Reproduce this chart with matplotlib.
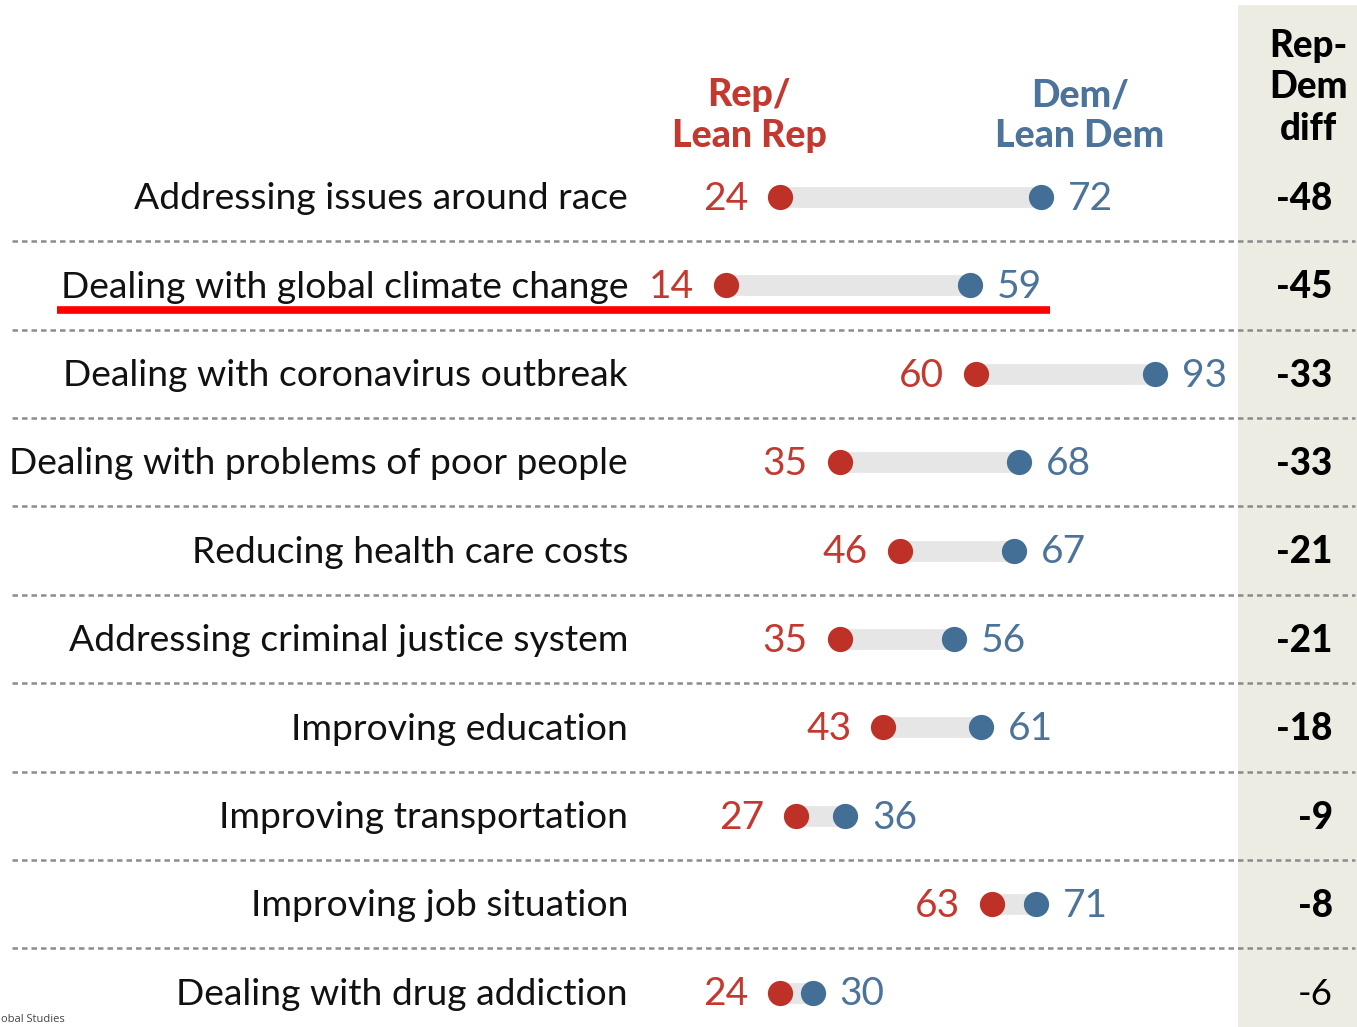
import matplotlib
matplotlib.use("Agg")
import matplotlib.pyplot as plt
from matplotlib.patches import Rectangle

# Share saying each group trusts the effort, by party
categories = [
    "Addressing issues around race",
    "Dealing with global climate change",
    "Dealing with coronavirus outbreak",
    "Dealing with problems of poor people",
    "Reducing health care costs",
    "Addressing criminal justice system",
    "Improving education",
    "Improving transportation",
    "Improving job situation",
    "Dealing with drug addiction",
]
rep_values = [24, 14, 60, 35, 46, 35, 43, 27, 63, 24]
dem_values = [72, 59, 93, 68, 67, 56, 61, 36, 71, 30]
diff_labels = ["-48", "-45", "-33", "-33", "-21", "-21", "-18", "-9", "-8", "-6"]
diff_bold = [True] * 9 + [False]

RED = "#BE3127"
BLUE = "#436F96"
RED_TXT = "#C4392F"
BLUE_TXT = "#4C7399"
BAR = "#E6E6E6"
COL_BG = "#ECECE2"

FONT = "Lato"

fig = plt.figure(figsize=(13.57, 10.27), dpi=100)
ax = fig.add_axes([0, 0, 1, 1])
ax.set_xlim(-119.4, 130.06)
ax.set_ylim(9.389, -2.228)
ax.axis("off")

# diff column background
ax.add_patch(Rectangle((108.2, -2.17), 30, 12, color=COL_BG, zorder=0, lw=0))

n = len(categories)
for i in range(n):
    r, d = rep_values[i], dem_values[i]
    ax.plot([r, d], [i, i], color=BAR, lw=15, solid_capstyle="butt", zorder=1)
    ax.scatter([r], [i], s=330, color=RED, zorder=3, lw=0)
    ax.scatter([d], [i], s=330, color=BLUE, zorder=3, lw=0)
    ax.text(r - 5.9, i + 0.02, str(r), ha="right", va="center", fontsize=28,
            color=RED_TXT, family=FONT)
    ax.text(d + 4.9, i + 0.02, str(d), ha="left", va="center", fontsize=28,
            color=BLUE_TXT, family=FONT)
    ax.text(-3.95, i + 0.02, categories[i], ha="right", va="center", fontsize=26.8,
            color="#111111", family=FONT)
    ax.text(125.6, i + 0.02, diff_labels[i], ha="right", va="center", fontsize=26.5,
            color="#000000", family=FONT,
            fontweight="black" if diff_bold[i] else "normal")
    if i < n - 1:
        ax.plot([-117.2, 129.7], [i + 0.5, i + 0.5], color="#8C8C8C", lw=1.8,
                dashes=(2.2, 1.6), zorder=1)

# highlight under the climate change row
ax.plot([-108.9, 73.6], [1.28, 1.28], color="#FF0000", lw=5.5,
        solid_capstyle="butt", zorder=4)

# column headers
ax.text(18.3, -0.92, "Rep/\nLean Rep", ha="center", va="center", fontsize=27,
        fontweight="black", color=RED_TXT, family=FONT, linespacing=1.25)
ax.text(79.1, -0.92, "Dem/\nLean Dem", ha="center", va="center", fontsize=27,
        fontweight="black", color=BLUE_TXT, family=FONT, linespacing=1.25)
ax.text(121.1, -1.24, "Rep-\nDem\ndiff", ha="center", va="center", fontsize=26.5,
        fontweight="black", color="#000000", family=FONT, linespacing=1.27)

# source line
ax.text(-119.3, 9.3, "obal Studies", ha="left", va="center", fontsize=8,
        color="#444444", family="Open Sans")

fig.savefig("out.png", dpi=100)
